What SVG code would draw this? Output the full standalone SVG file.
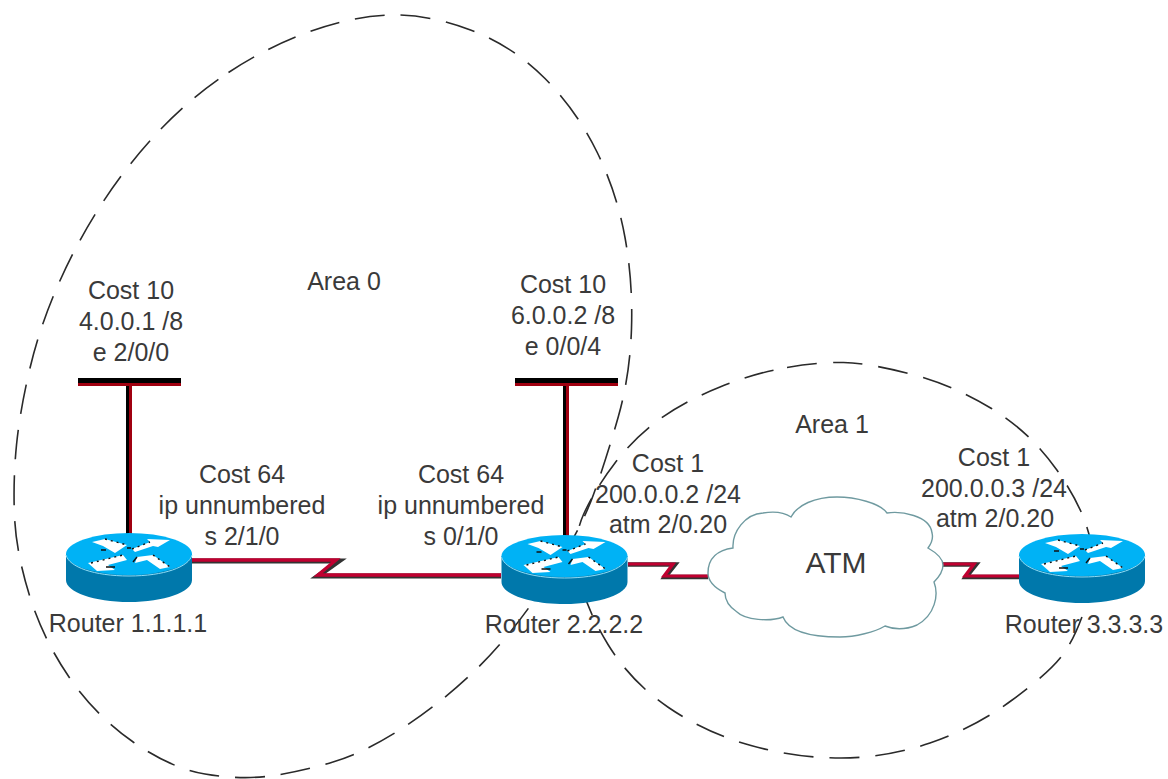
<svg xmlns="http://www.w3.org/2000/svg" width="1168" height="779" viewBox="0 0 1168 779">
<style>
text{font-family:"Liberation Sans",Arial,sans-serif;font-size:25px;fill:#3a3a3a;text-anchor:middle}
.area{fill:none;stroke:#2a2a2a;stroke-width:1.6;stroke-dasharray:30 16;stroke-linejoin:round}
.dk{fill:none;stroke:#333;stroke-linejoin:miter}
.rd{fill:none;stroke:#c00030;stroke-linejoin:miter}
.blk{fill:#000}
.dr{fill:#a00010}
</style>
<defs>
<g id="router">
<path d="M-63 0V26C-63 38-35 48 0 48S63 38 63 26V0Z" fill="#0078ab"/>
<ellipse cx="0" cy="0" rx="63" ry="21" fill="#00b2f5"/>
<path d="M-63 1C-60 13-35 22 0 22S60 13 63 1" fill="none" stroke="#8fdcf5" stroke-width="1"/>
<g fill="#fff">
<path d="M-37-12-24-15-2-9-14-1-26-8Z"/>
<path d="M3-5 21-12 18-15 41-14 29-7 24-8 6-2Z"/>
<path d="M-41 9-6 1-2 6-21 11-14 16-32 17Z"/>
<path d="M8 3 24 1 41 13 31 15 18 6 6 9Z"/>
</g>
<g fill="none" stroke="#111" stroke-width="1.4" stroke-dasharray="2 4">
<path d="M-24-15-2-9M-38 9-6 1M3-5 21-12M24 1 41 13"/>
<path d="M4 8 8 3" stroke-dasharray="none"/>
<path d="M-28-4H-23M-23 13H-14M-2-6H2" stroke-dasharray="none"/>
</g>
</g>
</defs>
<g id="areas">
<path id="area0" class="area" d="M228.5 72.5Q267 47 310 31.5Q353 16 390.5 15Q428 14 470.5 30Q513 46 545 78.5Q577 111 597 152Q617 193 625 237.5Q633 282 631.5 328.5Q630 375 618.5 416Q607 457 593.5 494.5Q580 532 545 584.5Q510 637 475.5 670Q441 703 403.5 727.5Q366 752 333 762Q300 772 270 776Q240 780 205 774Q170 768 132.5 741.5Q95 715 69 677Q43 639 29.5 595.5Q16 552 14.5 516Q13 480 16.5 445Q20 410 30 368Q40 326 58.5 284Q77 242 102 203.5Q127 165 158.5 131.5Q190 98 228.5 72.5Z"/>
<path id="area1" class="area" d="M787 367.5Q819 362 843.5 362.5Q868 363 910.5 374Q953 385 991.5 408.5Q1030 432 1056.5 469.5Q1083 507 1090 538.5Q1097 570 1086.5 603.5Q1076 637 1062.5 655Q1049 673 1011.5 700.5Q974 728 930 743Q886 758 841 758Q796 758 751 745.5Q706 733 668.5 707.5Q631 682 608 644.5Q585 607 578.5 573.5Q572 540 583.5 514.5Q595 489 615 463Q635 437 660 419Q685 401 720 387Q755 373 787 367.5Z"/>
</g>
<g id="connectors">
<path class="dk" stroke-width="5" d="M192 561H339L318 576H501"/>
<path class="rd" stroke-width="3.4" d="M192 560H336L318 575H501"/>
<path class="dk" stroke-width="4.5" d="M628 564.5H675L665 577H708"/>
<path class="rd" stroke-width="3.2" d="M628 564H673L664 576H708"/>
<path class="dk" stroke-width="4.5" d="M943 564.5H976L966 577H1020"/>
<path class="rd" stroke-width="3.2" d="M943 564H974L965 576H1020"/>
<rect class="blk" x="78" y="378" width="103" height="5"/>
<rect class="dr" x="78" y="383" width="103" height="3"/>
<rect class="blk" x="126" y="386" width="3" height="148"/>
<rect class="dr" x="129" y="383" width="3" height="151"/>
<rect class="blk" x="515" y="378" width="103" height="5"/>
<rect class="dr" x="515" y="383" width="103" height="3"/>
<rect class="blk" x="563" y="386" width="3" height="150"/>
<rect class="dr" x="566" y="383" width="3" height="153"/>
</g>
<g id="router-1"><use href="#router" x="129" y="554"/><text x="128" y="632">Router 1.1.1.1</text></g>
<g id="router-2"><use href="#router" x="564.5" y="556"/><text x="564" y="633">Router 2.2.2.2</text></g>
<g id="router-3"><use href="#router" x="1082" y="555"/><text x="1084" y="633">Router 3.3.3.3</text></g>
<g id="atm">
<path fill="#fff" stroke="#6f9aa0" stroke-width="1.4" d="M708 573C708 558 718 550 733 548C732 532 745 514 763 513C775 511 785 513 791 517C797 505 815 497 837 497C855 497 880 503 887 513C900 511 930 515 932 533C934 540 930 545 928 548C935 552 943 558 943 565C943 572 938 578 934 582C939 595 935 615 917 625C905 630 895 630 885 626C875 632 855 637 840 637C820 637 790 635 783 617C770 622 745 620 737 612C728 606 725 600 725 593C715 588 708 582 708 573Z"/>
<text x="836" y="573" style="font-size:30px">ATM</text>
</g>
<g id="labels">
<text x="344" y="290">Area 0</text>
<text x="832" y="433">Area 1</text>
<text x="131" y="299">Cost 10</text>
<text x="131" y="330">4.0.0.1 /8</text>
<text x="131" y="361">e 2/0/0</text>
<text x="563" y="293">Cost 10</text>
<text x="563" y="324">6.0.0.2 /8</text>
<text x="563" y="355">e 0/0/4</text>
<text x="242" y="483">Cost 64</text>
<text x="242" y="514">ip unnumbered</text>
<text x="242" y="545">s 2/1/0</text>
<text x="461" y="483">Cost 64</text>
<text x="461" y="514">ip unnumbered</text>
<text x="461" y="545">s 0/1/0</text>
<text x="668" y="472">Cost 1</text>
<text x="668" y="503">200.0.0.2 /24</text>
<text x="668" y="533">atm 2/0.20</text>
<text x="994" y="466">Cost 1</text>
<text x="994" y="497">200.0.0.3 /24</text>
<text x="995" y="527">atm 2/0.20</text>
</g>
</svg>
